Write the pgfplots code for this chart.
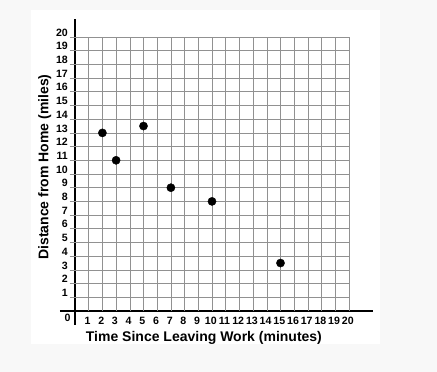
\documentclass[border=0pt]{standalone}
\usepackage{fontspec}
\setmainfont{Liberation Sans}
\usepackage{pgfplots}
\pgfplotsset{compat=1.18}
\definecolor{bgc}{RGB}{248,248,248}
\definecolor{gridc}{RGB}{145,145,145}
\begin{document}
\begin{tikzpicture}
\fill[bgc] (0,0) rectangle (437bp,372bp);
\fill[white] (31bp,28bp) rectangle (380bp,362bp);
\begin{axis}[
  at={(75bp,61bp)}, anchor=origin,
  x=13.7bp, y=13.7bp,
  xmin=-1.1, xmax=21.75, ymin=-1.02, ymax=21.3,
  axis lines=middle,
  axis line style={-, line width=1.1pt},
  xtick={1,...,20}, ytick={1,...,20},
  major tick length=0pt,
  /pgf/number format/assume math mode=true,
  tick label style={font=\fontsize{10.6bp}{12bp}\selectfont\bfseries},
  xticklabel style={anchor=north, inner sep=0pt, yshift=-6bp, xshift=-1.2bp},
  yticklabel style={anchor=south east, inner sep=0pt, xshift=-7bp, yshift=0.5bp},
  clip=false,
  xlabel={Time Since Leaving Work (minutes)},
  ylabel={Distance from Home (miles)},
  label style={font=\fontsize{14bp}{16bp}\selectfont\bfseries},
  xlabel style={at={(axis cs:9.41,-1.93)}, anchor=center},
  ylabel style={at={(axis cs:-2.21,10.51)}, anchor=center, rotate=90},
]
\pgfplotsinvokeforeach{1,...,20}{
  \draw[gridc, line width=0.6pt] (axis cs:#1,0) -- (axis cs:#1,20);
  \draw[gridc, line width=0.6pt] (axis cs:-0.4,#1) -- (axis cs:20,#1);
}
\node[font=\fontsize{10.6bp}{12bp}\selectfont\bfseries, anchor=center, inner sep=0pt] at (axis cs:-0.55,-0.49) {0};
\addplot[only marks, mark=*, mark size=4.1bp, black] coordinates {
  (2,13) (3,11) (5,13.5) (7,9) (10,8) (15,3.5)
};
\end{axis}
\end{tikzpicture}
\end{document}
